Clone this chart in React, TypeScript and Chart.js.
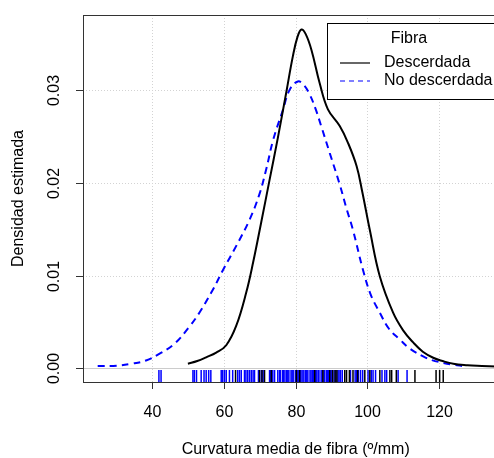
import React, { useEffect, useRef } from 'react'
import { Chart, registerables } from 'chart.js'

Chart.register(...registerables)

// density curves (x in º/mm, y = density)
const descX = [49.9, 52.5, 55, 57.8, 60.6, 63.4, 66.2, 68.1, 70.4, 72.7, 75.0, 77.4, 79.2, 80.5, 81.6, 82.8, 84.4, 86.7, 89.0, 92.3, 94.6, 97.0, 98.6, 100.7, 103.5, 107.2, 110, 112.8, 115.5, 118.4, 121, 124, 128, 132, 136]
const descY = [0.0005, 0.0008, 0.0012, 0.0017, 0.0025, 0.0046, 0.0082, 0.0114, 0.0158, 0.0203, 0.0248, 0.0298, 0.0336, 0.0357, 0.0365, 0.036, 0.0343, 0.0307, 0.0279, 0.0261, 0.0243, 0.0218, 0.019, 0.0149, 0.0099, 0.006, 0.0041, 0.0028, 0.0018, 0.00115, 0.0008, 0.0005, 0.00035, 0.00027, 0.0002]

const noDescX = [24.7, 30, 34, 38.2, 42, 46, 50.3, 53.1, 56.9, 59.7, 63.4, 67.1, 69.9, 71.8, 73.7, 76.4, 78.3, 80.6, 82.3, 83.9, 85.5, 87.2, 89.5, 92.3, 94.2, 96.0, 98.8, 101, 103.5, 106, 109.1, 112, 115.6, 118, 121.2, 124, 126.8]
const noDescY = [0.00025, 0.0003, 0.0005, 0.00086, 0.0016, 0.0026, 0.0045, 0.006, 0.0085, 0.0106, 0.0132, 0.016, 0.0188, 0.0215, 0.0246, 0.0278, 0.030, 0.0309, 0.0305, 0.0295, 0.028, 0.026, 0.0232, 0.0198, 0.0172, 0.0149, 0.0106, 0.0079, 0.006, 0.0043, 0.0031, 0.0021, 0.0013, 0.0009, 0.0006, 0.0004, 0.00025]

// rug observations
const rugDesc = [63.2, 69.9, 70.6, 71.3, 73.2, 80.2, 81.1, 85.3, 87.6, 89.5, 90.3, 91.0, 91.5, 93.7, 94.2, 95.0, 96.0, 97.3, 99.3, 100.7, 103.5, 106.3, 106.8, 108.1, 113.3, 119.2, 120.2, 121.2]
const rugNoDesc = [41.8, 42.4, 51.3, 51.7, 52.3, 53.6, 54.4, 55.0, 55.7, 56.3, 59.2, 59.6, 60.1, 60.6, 61.5, 62.4, 63.8, 64.3, 64.8, 65.7, 66.1, 66.6, 67.1, 67.6, 68.1, 68.5, 69.6, 70.4, 70.9, 72.7, 73.0, 73.6, 74.1, 75.0, 75.5, 75.7, 76.3, 76.6, 77.0, 77.5, 77.8, 78.1, 78.7, 79.0, 79.3, 79.9, 80.4, 80.7, 81.3, 81.5, 82.0, 82.3, 82.8, 83.1, 83.4, 84.0, 84.3, 84.7, 84.9, 85.6, 85.9, 86.3, 86.5, 87.1, 87.4, 87.9, 88.1, 88.6, 88.9, 89.2, 89.8, 90.1, 90.7, 91.2, 91.8, 92.1, 92.5, 93.0, 95.3, 96.6, 97.0, 97.5, 98.1, 98.7, 100.2, 101.1, 101.6, 102.3, 104.1, 104.9, 105.4, 108.6, 111.1]

const xTicks = [40, 60, 80, 100, 120]
const yTicks = [0, 0.01, 0.02, 0.03]
const yTickLabels = ['0.00', '0.01', '0.02', '0.03']
const seriesNames = ['Descerdada', 'No descerdada']

const FONT = '16px "Liberation Sans", Arial, sans-serif'

const rPlot = {
  id: 'rPlot',
  beforeDatasetsDraw(chart: Chart) {
    const { ctx, chartArea: a, scales } = chart
    const x = scales.x
    const y = scales.y
    ctx.save()
    // dotted grid
    ctx.strokeStyle = '#d3d3d3'
    ctx.lineWidth = 1
    ctx.setLineDash([1, 2])
    xTicks.forEach(t => {
      const px = Math.round(x.getPixelForValue(t)) + 0.5
      ctx.beginPath(); ctx.moveTo(px, a.top); ctx.lineTo(px, a.bottom); ctx.stroke()
    })
    yTicks.forEach(t => {
      const py = Math.round(y.getPixelForValue(t)) + 0.5
      ctx.beginPath(); ctx.moveTo(a.left, py); ctx.lineTo(a.right, py); ctx.stroke()
    })
    ctx.setLineDash([])
    // zero line
    const p0 = Math.round(y.getPixelForValue(0)) + 0.5
    ctx.strokeStyle = '#cccccc'
    ctx.beginPath(); ctx.moveTo(a.left, p0); ctx.lineTo(a.right, p0); ctx.stroke()
    ctx.restore()
  },
  afterDatasetsDraw(chart: Chart) {
    const { ctx, chartArea: a, scales } = chart
    const x = scales.x
    const y = scales.y
    ctx.save()
    // rug
    const rugTop = a.bottom - 12
    const drawRug = (vals: number[], color: string) => {
      ctx.strokeStyle = color
      ctx.lineWidth = 1.5
      vals.forEach(v => {
        const px = x.getPixelForValue(v)
        ctx.beginPath(); ctx.moveTo(px, a.bottom); ctx.lineTo(px, rugTop); ctx.stroke()
      })
    }
    drawRug(rugNoDesc, '#0000ff')
    drawRug(rugDesc, '#000000')

    // box
    ctx.strokeStyle = '#333333'
    ctx.lineWidth = 1
    ctx.strokeRect(Math.round(a.left) + 0.5, Math.round(a.top) + 0.5, Math.round(a.right - a.left), Math.round(a.bottom - a.top))

    // ticks + labels
    ctx.fillStyle = '#000000'
    ctx.font = FONT
    ctx.textAlign = 'center'
    ctx.textBaseline = 'middle'
    xTicks.forEach(t => {
      const px = Math.round(x.getPixelForValue(t)) + 0.5
      ctx.beginPath(); ctx.moveTo(px, a.bottom); ctx.lineTo(px, a.bottom + 7); ctx.stroke()
      ctx.fillText(String(t), px, a.bottom + 31)
    })
    yTicks.forEach((t, i) => {
      const py = Math.round(y.getPixelForValue(t)) + 0.5
      ctx.beginPath(); ctx.moveTo(a.left, py); ctx.lineTo(a.left - 7, py); ctx.stroke()
      ctx.save()
      ctx.translate(a.left - 28, py)
      ctx.rotate(-Math.PI / 2)
      ctx.fillText(yTickLabels[i], 0, 0)
      ctx.restore()
    })
    // axis titles
    ctx.fillText('Curvatura media de fibra (º/mm)', (a.left + a.right) / 2, 450)
    ctx.save()
    ctx.translate(19, (a.top + a.bottom) / 2)
    ctx.rotate(-Math.PI / 2)
    ctx.fillText('Densidad estimada', 0, 0)
    ctx.restore()

    // legend
    const lx = 327.5
    const ly = 23.5
    const lw = a.right - 8 - lx
    const lh = 76
    ctx.fillStyle = '#ffffff'
    ctx.fillRect(lx, ly, lw, lh)
    ctx.strokeStyle = '#000000'
    ctx.strokeRect(lx, ly, lw, lh)
    ctx.fillStyle = '#000000'
    ctx.fillText('Fibra', 409, 39)
    ctx.textAlign = 'left'
    ctx.lineWidth = 1.2
    ctx.beginPath(); ctx.moveTo(340, 63); ctx.lineTo(370, 63); ctx.stroke()
    ctx.strokeStyle = '#0000ff'
    ctx.setLineDash([5, 4])
    ctx.beginPath(); ctx.moveTo(340, 81); ctx.lineTo(370, 81); ctx.stroke()
    ctx.setLineDash([])
    ctx.fillText(seriesNames[0], 384, 63)
    ctx.fillText(seriesNames[1], 384, 81)
    ctx.restore()
  }
}

export default function App() {
  const canvasRef = useRef<HTMLCanvasElement>(null)

  useEffect(() => {
    if (!canvasRef.current) return
    const chart = new Chart(canvasRef.current, {
      type: 'scatter',
      data: {
        datasets: [
          {
            label: seriesNames[0],
            data: descX.map((v, i) => ({ x: v, y: descY[i] })),
            showLine: true,
            borderColor: '#000000',
            borderWidth: 2,
            pointRadius: 0,
            tension: 0.4
          },
          {
            label: seriesNames[1],
            data: noDescX.map((v, i) => ({ x: v, y: noDescY[i] })),
            showLine: true,
            borderColor: '#0000ff',
            borderWidth: 2,
            borderDash: [7, 5],
            pointRadius: 0,
            tension: 0.4
          }
        ]
      },
      options: {
        animation: false,
        responsive: true,
        maintainAspectRatio: false,
        layout: { padding: { left: 83, top: 15, right: 21.6, bottom: 76 } },
        plugins: { legend: { display: false }, tooltip: { enabled: false } },
        scales: {
          x: { type: 'linear', min: 20.6, max: 139.4, display: false },
          y: { type: 'linear', min: -0.00146, max: 0.03806, display: false }
        }
      },
      plugins: [rPlot]
    })
    return () => chart.destroy()
  }, [])

  return (
    <div style={{ position: 'fixed', left: 0, top: 0, width: 494, height: 458, overflow: 'hidden', background: '#fff' }}>
      <div style={{ width: 530, height: 458 }}>
        <canvas ref={canvasRef} />
      </div>
    </div>
  )
}
